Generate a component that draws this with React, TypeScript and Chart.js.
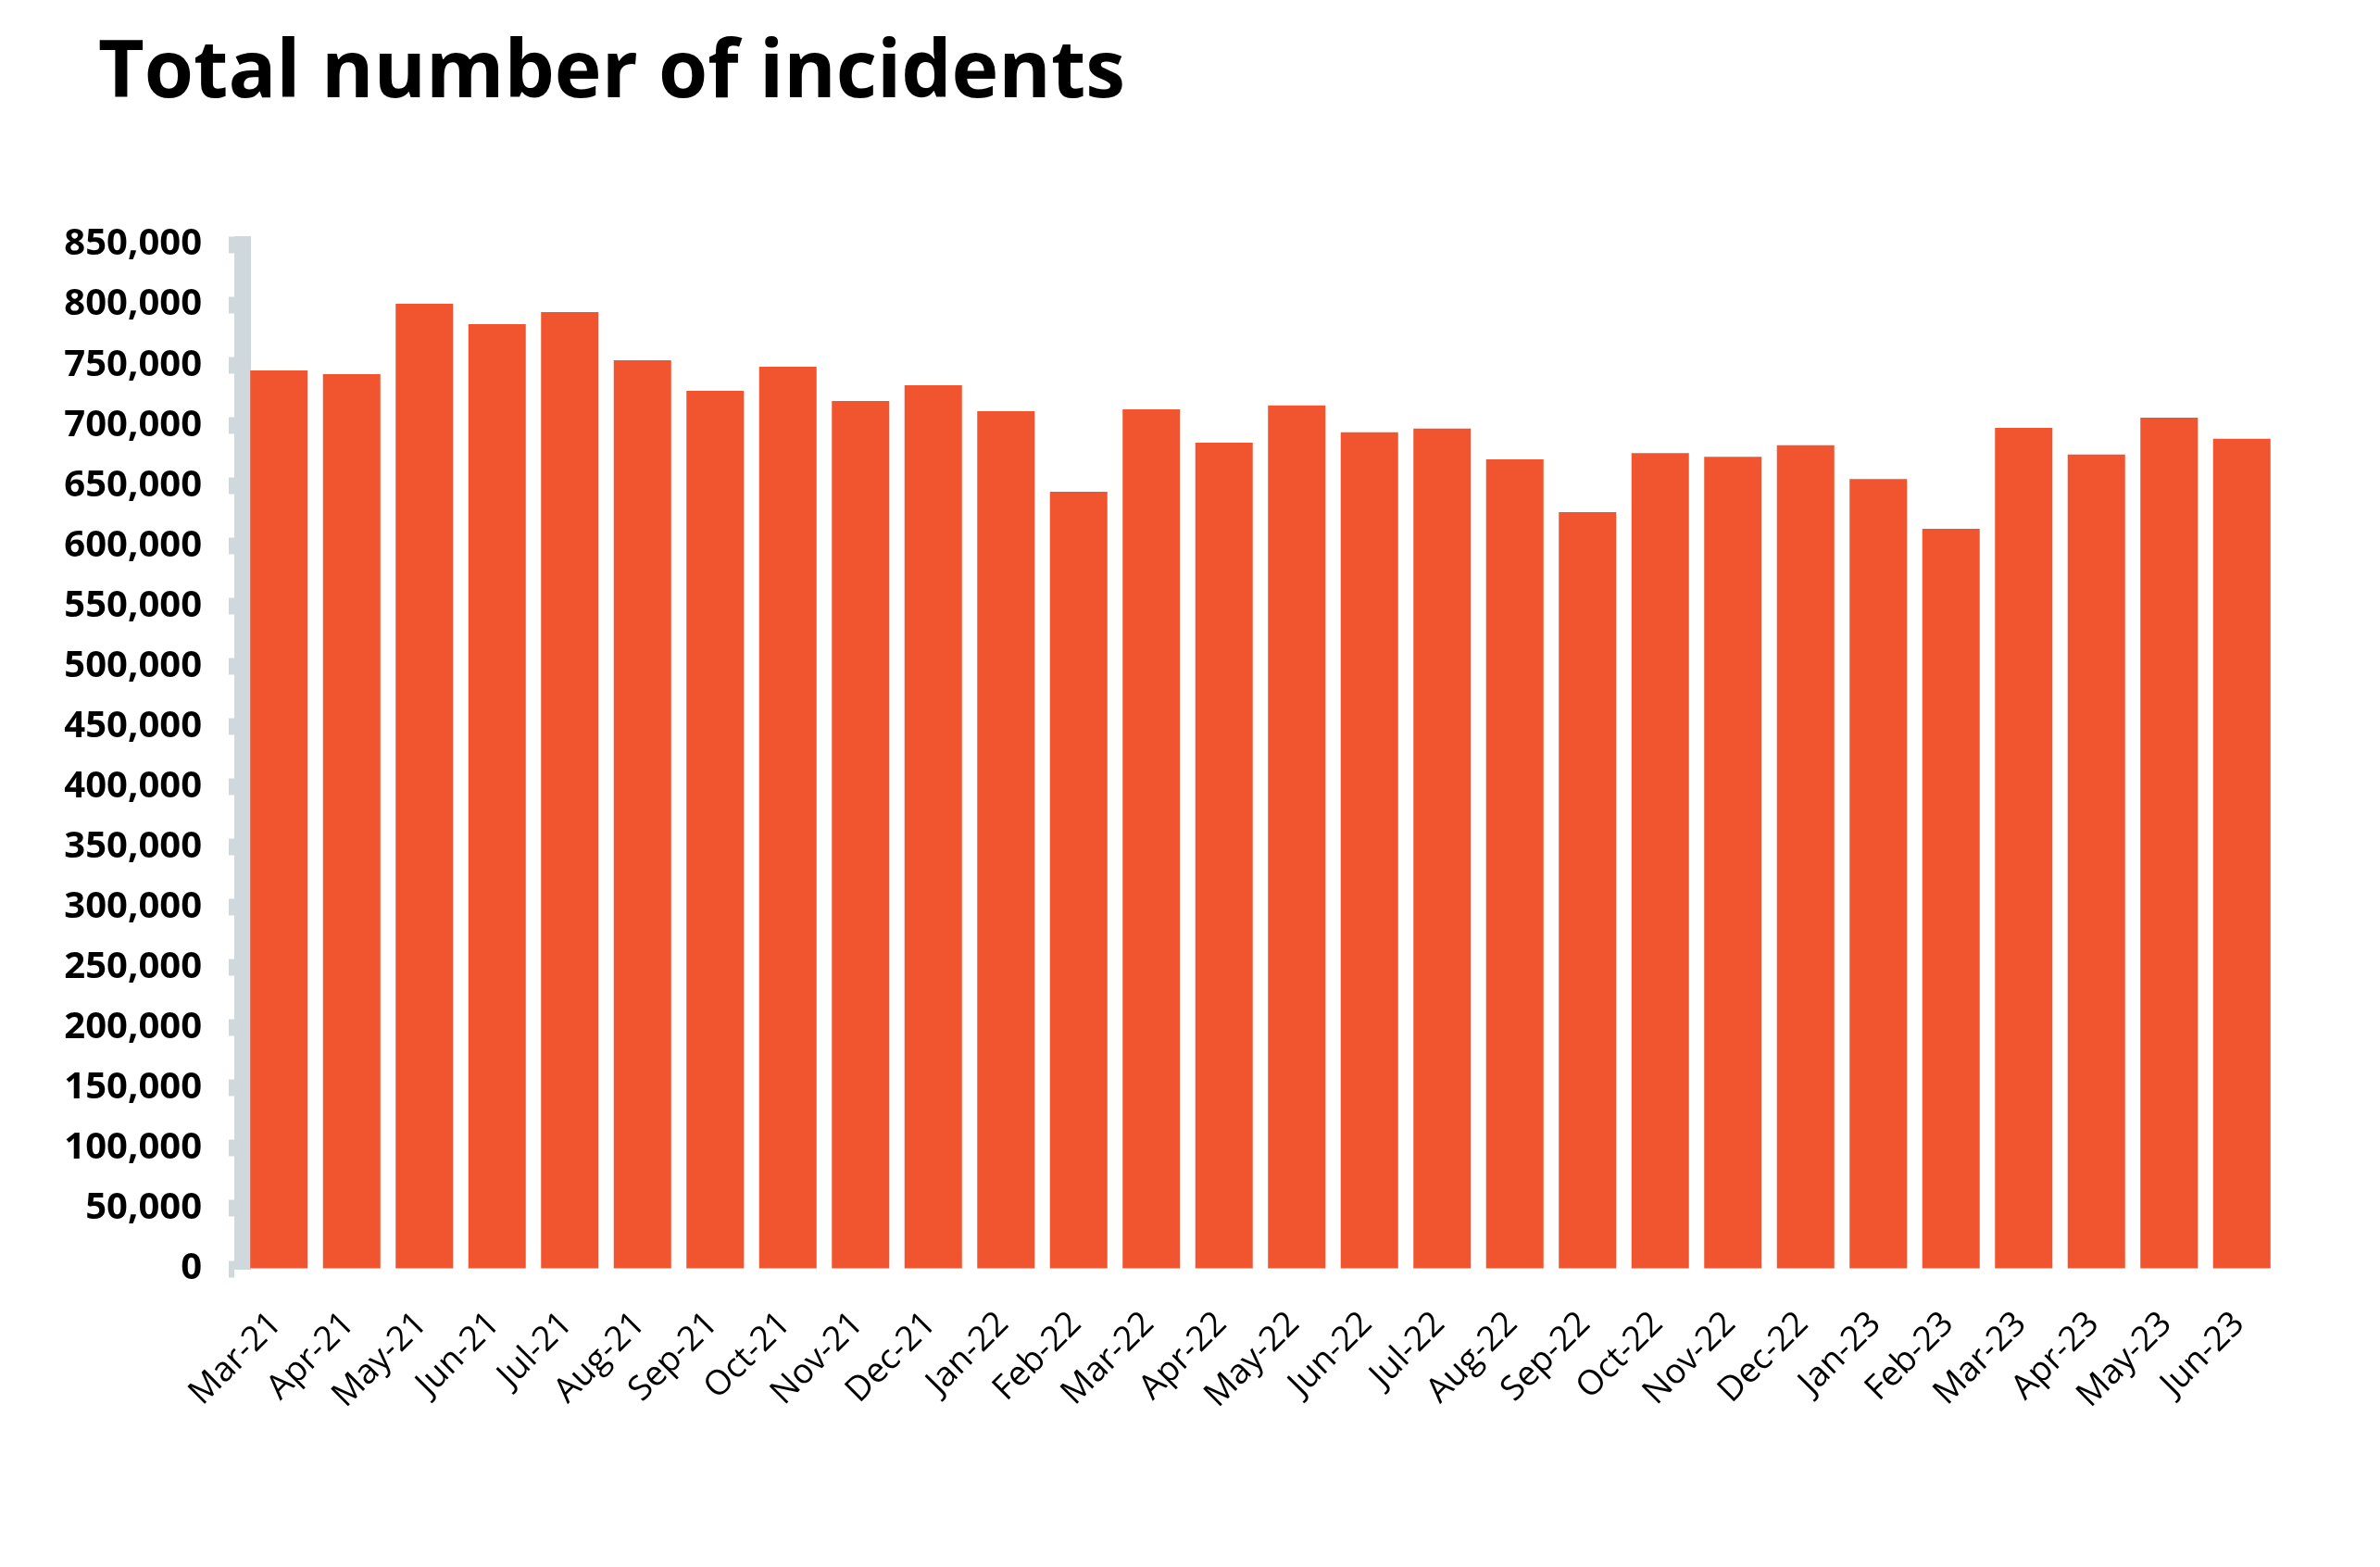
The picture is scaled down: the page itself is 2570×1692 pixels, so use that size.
import React, { useEffect, useRef } from "react";
import { Chart, registerables } from "chart.js";

Chart.register(...registerables);

const TITLE = "Total number of incidents";

const MONTHS = [
  "Mar-21", "Apr-21", "May-21", "Jun-21", "Jul-21", "Aug-21", "Sep-21",
  "Oct-21", "Nov-21", "Dec-21", "Jan-22", "Feb-22", "Mar-22", "Apr-22",
  "May-22", "Jun-22", "Jul-22", "Aug-22", "Sep-22", "Oct-22", "Nov-22",
  "Dec-22", "Jan-23", "Feb-23", "Mar-23", "Apr-23", "May-23", "Jun-23",
];

const INCIDENTS = [
  745500, 742400, 800800, 783900, 793900, 753900, 728600,
  748600, 720100, 733200, 711700, 644800, 713200, 685500,
  716400, 694200, 697300, 671700, 627900, 676800, 673800,
  683500, 655300, 614100, 697800, 675800, 706300, 688800,
];

const Y_MIN = 0;
const Y_MAX = 850000;
const Y_STEP = 50000;

const BAR_COLOR = "#F15530";
const AXIS_COLOR = "#CFD8DC";

const W = 2554;
const H = 1676;

const titleShift = {
  id: "titleShift",
  afterLayout(chart: any) {
    if (chart.titleBlock) {
      chart.titleBlock.left = 98;
      chart.titleBlock.right = chart.width;
    }
  },
};

export default function App() {
  const ref = useRef<HTMLCanvasElement | null>(null);

  useEffect(() => {
    if (!ref.current) return;
    const chart = new Chart(ref.current, {
      type: "bar",
      data: {
        labels: MONTHS,
        datasets: [
          {
            label: "Incidents",
            data: INCIDENTS,
            backgroundColor: BAR_COLOR,
            borderWidth: 0,
            barPercentage: 0.79,
            categoryPercentage: 1,
          },
        ],
      },
      plugins: [titleShift],
      options: {
        responsive: false,
        animation: false,
        devicePixelRatio: 1,
        layout: { padding: { left: 0, right: 102, top: 0, bottom: 114 } },
        plugins: {
          legend: { display: false },
          tooltip: { enabled: false },
          title: {
            display: true,
            text: TITLE,
            align: "start",
            color: "#000",
            font: { family: "'Open Sans'", size: 86, weight: "bold", lineHeight: 1.2 },
            padding: { top: 21, bottom: 131.8 },
          },
        },
        scales: {
          x: {
            grid: { display: false, drawTicks: false },
            border: { display: false },
            afterFit: (scale: any) => {
              scale.height = 200;
            },
            ticks: {
              autoSkip: false,
              minRotation: 45,
              maxRotation: 45,
              padding: 38,
              labelOffset: -3,
              color: "#000",
              font: { family: "'Open Sans'", size: 37, weight: "normal" },
            },
          },
          y: {
            min: Y_MIN,
            max: Y_MAX,
            afterFit: (scale: any) => {
              scale.width = 254;
            },
            grid: {
              drawOnChartArea: false,
              drawTicks: true,
              tickLength: 15,
              tickWidth: 18,
              tickColor: AXIS_COLOR,
            },
            border: { display: true, color: AXIS_COLOR, width: 18 },
            ticks: {
              stepSize: Y_STEP,
              padding: 29,
              color: "#000",
              font: { family: "'Open Sans'", size: 40, weight: "bold" },
              callback: (v: any) => Number(v).toLocaleString("en-US"),
            },
          },
        },
      },
    });
    return () => chart.destroy();
  }, []);

  return (
    <div style={{ width: W, height: H }}>
      <canvas ref={ref} width={W} height={H} style={{ display: "block" }} />
    </div>
  );
}
